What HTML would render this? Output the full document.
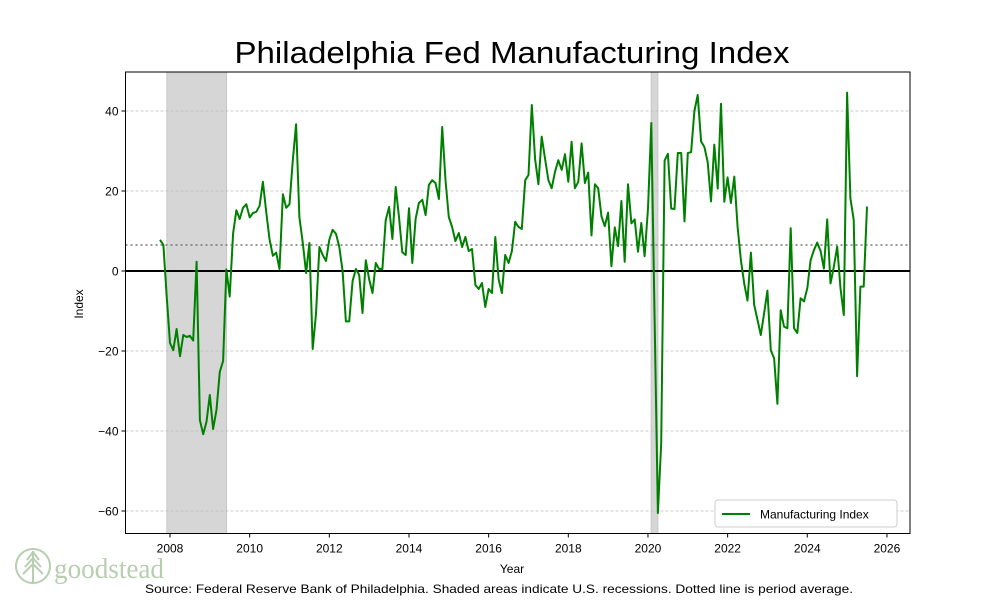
<!DOCTYPE html>
<html><head><meta charset="utf-8"><style>
html,body{margin:0;padding:0;background:#fff;}
svg{display:block;font-family:"Liberation Sans",sans-serif;}
</style></head><body>
<svg id="chart" width="1000" height="600" viewBox="0 0 1000 600" xmlns="http://www.w3.org/2000/svg">
<text x="512" y="63" text-anchor="middle" font-size="31" textLength="555" lengthAdjust="spacingAndGlyphs" fill="#000">Philadelphia Fed Manufacturing Index</text>
<g id="plot"></g>
<text transform="translate(83,304) rotate(-90)" text-anchor="middle" font-size="12">Index</text>
<text x="512" y="573" text-anchor="middle" font-size="12">Year</text>
<g>
<rect x="715" y="500" width="182" height="27" rx="3" fill="#fff" stroke="#ccc"/>
<line x1="722" y1="514" x2="750" y2="514" stroke="#008000" stroke-width="2"/>
<text x="760" y="518.5" font-size="12">Manufacturing Index</text>
</g>
<g fill="none" stroke="#b7ceb0" stroke-width="2">
<circle cx="33" cy="566" r="17"/>
<line x1="33" y1="551" x2="33" y2="582"/>
<path d="M33 552 L27 560 M33 552 L39 560 M33 558 L25 567 M33 558 L41 567 M33 564 L23 574 M33 564 L43 574"/>
<text x="54" y="578" font-size="28" font-family="Liberation Serif,serif" textLength="110" lengthAdjust="spacingAndGlyphs" fill="#b7ceb0" stroke="none">goodstead</text>
</g>
<text x="499" y="593" text-anchor="middle" font-size="12" textLength="708" lengthAdjust="spacingAndGlyphs">Source: Federal Reserve Bank of Philadelphia. Shaded areas indicate U.S. recessions. Dotted line is period average.</text>
</svg>
<script>
const startYear = 2007.75;
const values = [7.8,6.5,-6.4,-18,-19.8,-14.5,-21.3,-16,-16.5,-16.2,-17.4,2.3,-37.3,-40.8,-37.7,-31,-39.5,-34.7,-25.2,-22.5,0.4,-6.4,9.4,15.2,13,15.8,16.7,13.4,14.5,14.8,16.3,22.3,14.6,7.8,3.8,4.6,0.5,19.2,15.8,16.7,27.7,36.7,13.4,7,-0.5,7,-19.5,-10.7,6,4,2.5,7.8,10.3,9.3,6,0,-12.6,-12.6,
-2.5,0.5,-1,-10.5,2.7,-2,-5.5,2,0.5,0.5,12.7,16,8,21,13.5,4.7,4,15.7,2,13,17,17.8,14,21.5,22.7,22,18,36,22.7,13.5,11,7.5,9.5,6,8.5,5,5.5,-3.5,-4.5,-3,-9,-4.5,-5.5,8.5,-2,-5.5,4,2,5,12.3,11,10.5,22.7,24,
41.5,28,21.7,33.6,28,22.7,20.7,24.8,27.7,25.3,29.2,22.3,32.3,20.7,22.3,31.9,22,24.6,8.9,21.7,20.7,13.6,11.2,14.6,1.2,10.9,6.2,17.5,2.3,21.7,11.9,12.9,4.8,12,3.7,15.6,37,-12,-60.5,-43,27.6,29.3,15.6,15.5,29.5,29.5,12.4,29.5,29.7,40,44,32.4,31,27.2,17.4,31.6,20.6,41.8,
17.3,23.4,17,23.6,11,2.7,-3.1,-7.4,4.6,-8.5,-12.2,-16,-10.6,-4.9,-19.8,-21.8,-33.2,-9.8,-13.9,-14.3,10.7,-14.3,-15.5,-6.8,-7.6,-4.3,2.7,5.2,7.1,5,0.6,12.9,-3.1,1,6.1,-4.3,-11,44.6,18.2,12.8,-26.3,-3.9,-3.9,16.1];
const yTicks = [-60,-40,-20,0,20,40];
const xTicks = [2008,2010,2012,2014,2016,2018,2020,2022,2024,2026];
const recessionStarts = [2007.92,2020.08];
const recessionEnds = [2009.42,2020.25];
const average = 6.5;

const L=125.5,R=910,T=72,B=533.5;
const xs = t => 170 + (t-2008)*39.83;
const ys = v => 271 - v*4;
const NS="http://www.w3.org/2000/svg";
const g=document.getElementById('plot');
function mk(tag,attrs,parent){const e=document.createElementNS(NS,tag);for(const k in attrs)e.setAttribute(k,attrs[k]);(parent||g).appendChild(e);return e;}

for(let i=0;i<recessionStarts.length;i++){
  const r=mk('rect',{x:xs(recessionStarts[i]),y:T,width:xs(recessionEnds[i])-xs(recessionStarts[i]),height:B-T,fill:'#d6d6d6',stroke:'#c8c8c8'});
  
  
}
yTicks.forEach(v=>{
  const l=mk('line',{x1:L,x2:R,y1:ys(v),y2:ys(v),stroke:'#bbb','stroke-dasharray':'3,2','stroke-width':0.8});
  
  
  mk('line',{x1:L-4,x2:L,y1:ys(v),y2:ys(v),stroke:'#000'});
  const t=mk('text',{x:L-7,y:ys(v)+4.5,'text-anchor':'end','font-size':12});
  t.textContent=v<0?'\u2212'+Math.abs(v):v;
  
  
});
xTicks.forEach(v=>{
  mk('line',{x1:xs(v),x2:xs(v),y1:B,y2:B+4,stroke:'#000'});
  const t=mk('text',{x:xs(v),y:B+19,'text-anchor':'middle','font-size':12});
  t.textContent=v;
  
  
});
const avg=mk('line',{x1:L,x2:R,y1:ys(average),y2:ys(average),stroke:'#777','stroke-dasharray':'2,3','stroke-width':1.5});


const zero=mk('line',{x1:L,x2:R,y1:ys(0),y2:ys(0),stroke:'#000','stroke-width':2});


const pts=values.map((v,i)=>xs(startYear+i/12).toFixed(1)+','+ys(v).toFixed(1)).join(' ');
const pl=mk('polyline',{points:pts,fill:'none',stroke:'#008000','stroke-width':2,'stroke-linejoin':'round'});


const fr=mk('rect',{x:L,y:T,width:R-L,height:B-T,fill:'none',stroke:'#000','stroke-width':1});


</script>
</body></html>
